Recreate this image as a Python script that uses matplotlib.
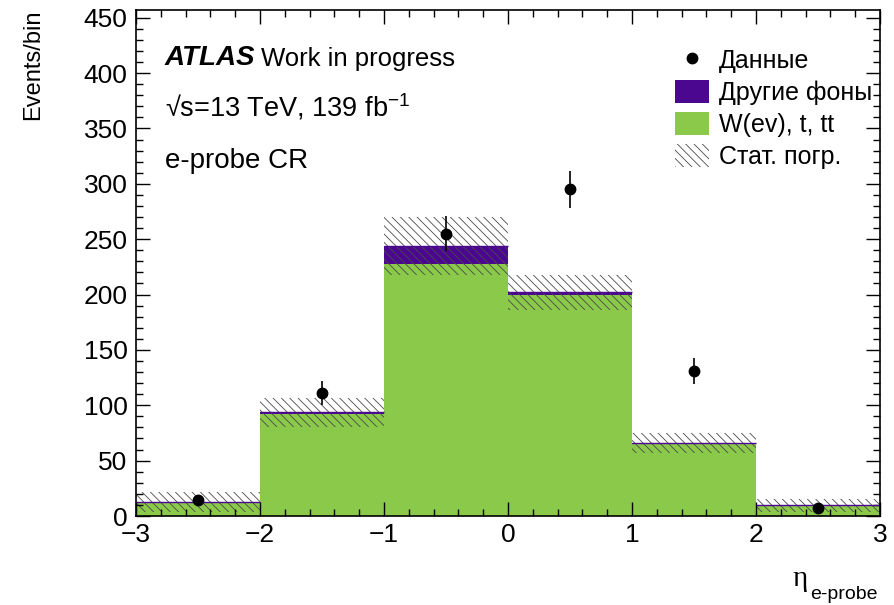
import numpy as np
import matplotlib
matplotlib.use("Agg")
import matplotlib.pyplot as plt
from matplotlib.lines import Line2D
from matplotlib.patches import Patch
from matplotlib.ticker import MultipleLocator

# eta bins of the e-probe control region
edges = [-3, -2, -1, 0, 1, 2, 3]
wevt = [12.5, 92.0, 228.0, 200.0, 65.0, 9.0]          # W(ev), t, tt
other = [0.5, 1.5, 16.0, 2.0, 1.2, 0.5]              # other backgrounds
stat_unc = [9.0, 13.0, 26.0, 16.0, 9.0, 5.5]
data = [14, 111, 255, 295, 131, 7]
data_err = [3.7, 10.5, 16.0, 17.0, 11.5, 2.6]

labels = ["Данные", "Другие фоны", "W(ev), t, tt", "Стат. погр."]

GREEN = "#8BC94A"
PURPLE = "#4B0790"
HATCH = "#4a4a4a"

plt.rcParams["font.family"] = ["Liberation Sans", "DejaVu Sans"]
plt.rcParams["mathtext.fontset"] = "custom"
plt.rcParams["mathtext.rm"] = "Liberation Sans"
plt.rcParams["hatch.linewidth"] = 0.6
plt.rcParams["hatch.color"] = HATCH

W, H = 894, 605
fig = plt.figure(figsize=(W / 100, H / 100), dpi=100)
ax = fig.add_axes([136 / W, 89 / H, 744 / W, 506 / H])

edges_a = np.asarray(edges, dtype=float)
green = np.asarray(wevt)
total = green + np.asarray(other)
unc = np.asarray(stat_unc)
centers = 0.5 * (edges_a[:-1] + edges_a[1:])

ax.stairs(green, edges_a, fill=True, color=GREEN, linewidth=0)
ax.stairs(total, edges_a, baseline=green, fill=True, color=PURPLE, linewidth=0)
# thin line on top of the stack so small contributions stay visible
ax.hlines(total, edges_a[:-1], edges_a[1:], color=PURPLE, linewidth=1.0)
ax.stairs(total + unc, edges_a, baseline=np.clip(total - unc, 0, None), fill=True,
          facecolor="none", edgecolor=HATCH, hatch="\\\\\\\\", linewidth=0)
ax.errorbar(centers, data, yerr=data_err, fmt="o", color="black", markersize=7.5,
            elinewidth=1.2, capsize=0)

ax.set_xlim(-3, 3)
ax.set_ylim(0, 457)
ax.xaxis.set_major_locator(MultipleLocator(1))
ax.xaxis.set_minor_locator(MultipleLocator(0.2))
ax.yaxis.set_major_locator(MultipleLocator(50))
ax.yaxis.set_minor_locator(MultipleLocator(10))
ax.tick_params(which="both", direction="in", top=True, right=True, width=1.0,
               labelsize=19)
ax.tick_params(which="major", length=10)
ax.tick_params(which="minor", length=5)
ax.tick_params(axis="x", pad=5)
ax.tick_params(axis="y", pad=6)
for sp in ax.spines.values():
    sp.set_linewidth(1.2)

# axis titles, ROOT style: flush with the top / right end
fig.text(33 / W, 1 - 10 / H, "Events/bin", rotation=90, ha="center", va="top",
         fontsize=17)
fig.text(793 / W, 1 - 586 / H, "η", fontsize=21,
         family=["Liberation Serif", "DejaVu Serif"], va="baseline")
fig.text(810 / W, 1 - 599 / H, "e-probe", fontsize=14, va="baseline")

# labels
atl = ax.text(0.039, 0.891, "ATLAS", transform=ax.transAxes, fontsize=20,
              fontweight="bold", fontstyle="italic", va="baseline")
ax.annotate("Work in progress", xy=(1, 0), xycoords=atl, xytext=(4, 0),
            textcoords="offset points", fontsize=18.5, va="bottom")
ax.text(0.039, 0.789, "√s=13 TeV, 139 fb$^{-1}$", transform=ax.transAxes,
        fontsize=19.5, va="baseline")
ax.text(0.039, 0.688, "e-probe CR", transform=ax.transAxes, fontsize=20,
        va="baseline")

handles = [
    Line2D([], [], marker="o", color="black", linestyle="none", markersize=7.5),
    Patch(facecolor=PURPLE, edgecolor="none"),
    Patch(facecolor=GREEN, edgecolor="none"),
    Patch(facecolor="white", edgecolor=HATCH, hatch="\\\\\\\\", linewidth=0),
]
fig.legend(handles, labels, loc="upper left",
           bbox_to_anchor=(675 / W, 1 - 48 / H), frameon=False, fontsize=18,
           borderpad=0, borderaxespad=0, handlelength=1.36, handleheight=1.02,
           handletextpad=0.4, labelspacing=0.29)

fig.savefig("out.png", dpi=100)
